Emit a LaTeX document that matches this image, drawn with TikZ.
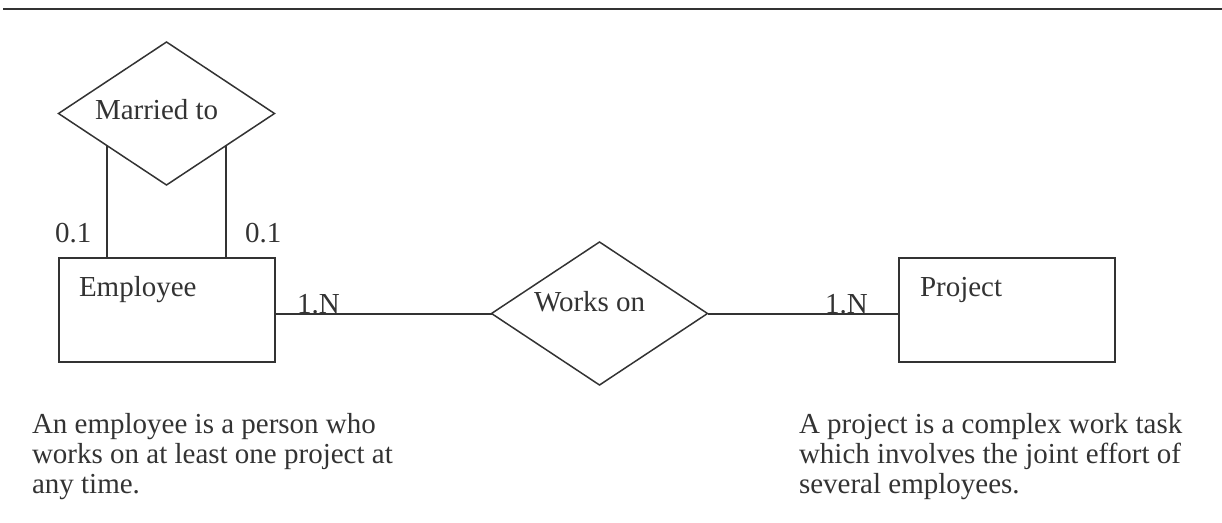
\documentclass[tikz,border=0pt]{standalone}
\usepackage{fontspec}
\setmainfont{Liberation Serif}
\usetikzlibrary{shapes.geometric,calc}
\definecolor{ink}{HTML}{333333}
\begin{document}
\begin{tikzpicture}[x=1pt,y=-1pt,
  every node/.style={inner sep=0pt, outer sep=0pt, text=ink, font=\fontsize{29}{30}\selectfont},
  entity/.style={draw=ink, line width=2pt, rectangle, minimum width=216pt, minimum height=104pt},
  relation/.style={draw=ink, line width=1.5pt, diamond, minimum width=216pt, minimum height=143pt},
  link/.style={draw=ink, line width=2pt},
  txt/.style={anchor=base west},
  note/.style={anchor=base west, align=left}]
\useasboundingbox (0,0) rectangle (1222,522);
% header rule
\draw[ink, line width=2.6pt] (3,9) -- (1222,9);

% entities
\node[entity] (emp) at (167,309.5) {};
\node[entity] (proj) at (1007,309.5) {};
\node[txt] (empl) at (79,296) {Employee};
\node[txt] (projl) at (920,296) {Project};

% relationships
\node[relation] (married) at (166.5,113.5) {};
\node[relation] (works) at (599.5,313.5) {};
\node[txt] (marriedl) at (95,119) {Married to};
\node[txt] (worksl) at (534,311) {Works on};

% connectors
\coordinate (ml) at ($(married.west)!0.45!(married.south)$);
\coordinate (mr) at ($(married.east)!0.45!(married.south)$);
\draw[link] (ml) -- (ml |- emp.north);
\draw[link] (mr) -- (mr |- emp.north);
\draw[link] (works.west) -- (works.west -| emp.east);
\draw[link] (works.east) -- (works.east -| proj.west);

% cardinalities
\node[txt] (c1) at (55,242) {0.1};
\node[txt] (c2) at (245,242) {0.1};
\node[txt] (c3) at (297,313) {1.N};
\node[txt] (c4) at (825,313) {1.N};

% descriptions (the base anchor of a multi-line node lies below its first line)
\node[note] (empnote) at (32,493) {An employee is a person who\\works on at least one project at\\any time.};
\node[note] (projnote) at (799,493) {A project is a complex work task\\which involves the joint effort of\\several employees.};
\end{tikzpicture}
\end{document}
